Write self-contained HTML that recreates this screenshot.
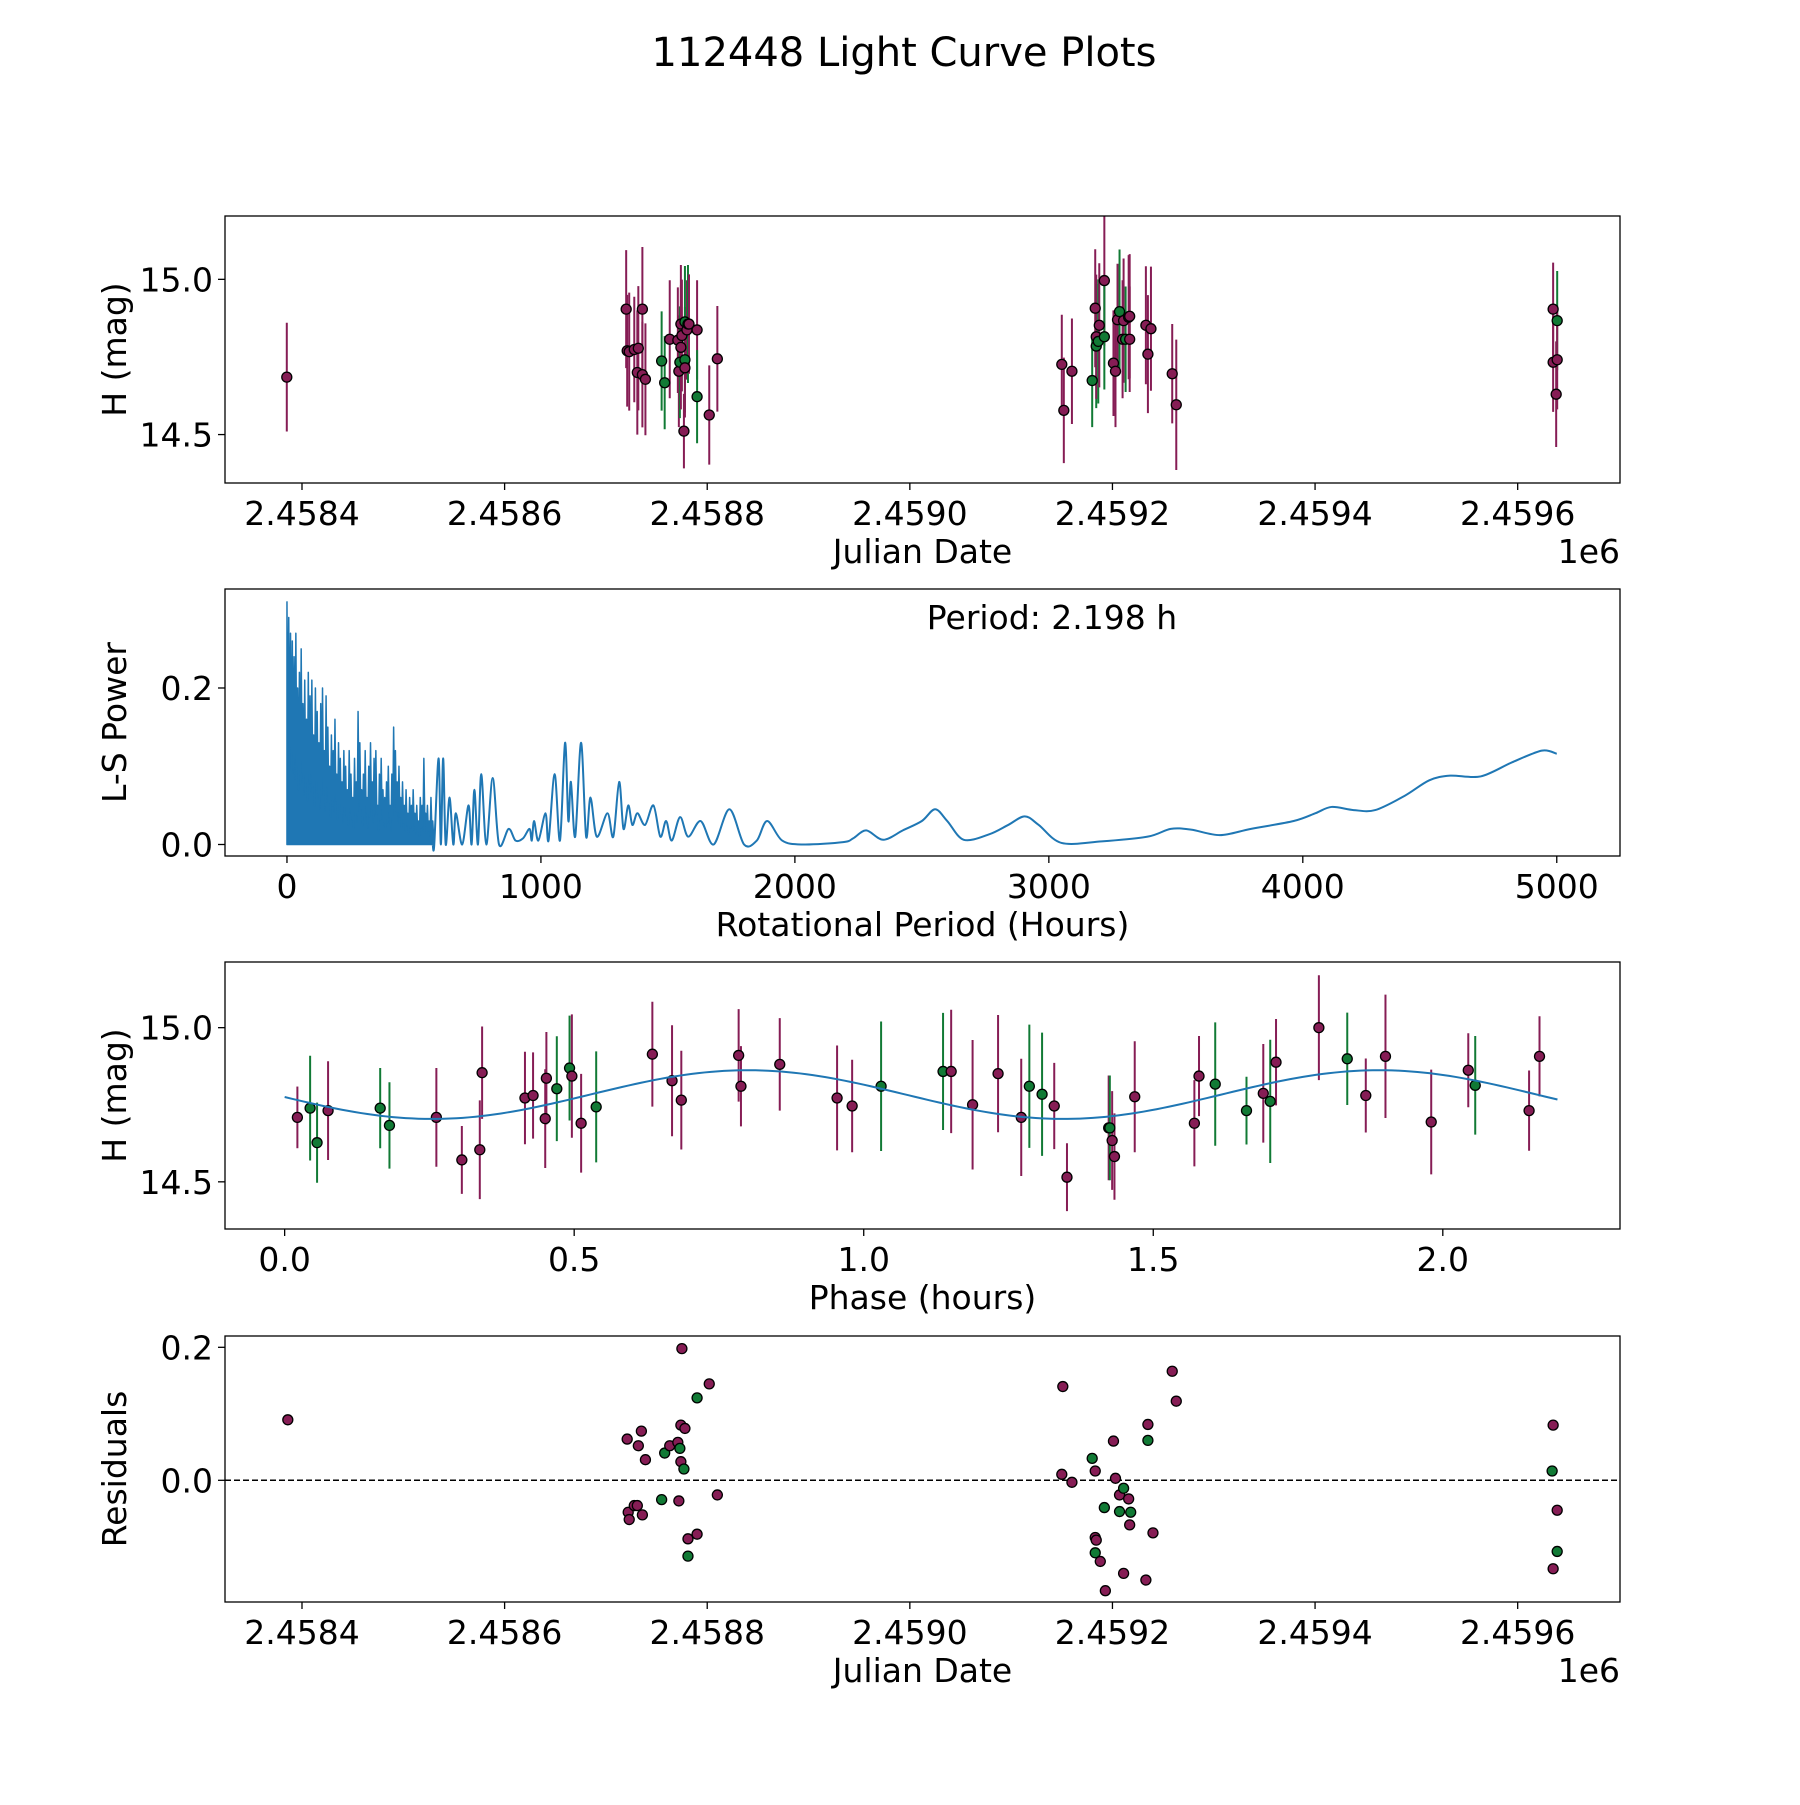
<!DOCTYPE html>
<html><head><meta charset="utf-8"><style>
html,body{margin:0;padding:0;background:#fff}
svg text{font-family:"DejaVu Sans","Liberation Sans",sans-serif;fill:#000}
</style></head><body>
<svg id="fig" xmlns="http://www.w3.org/2000/svg" width="1800" height="1800" viewBox="0 0 1800 1800">
<rect width="1800" height="1800" fill="#fff"/>
<text x="904" y="66" font-size="40" text-anchor="middle">112448 Light Curve Plots</text>
</svg>
<script>
// ---------- DATA ----------
const lcJD = [2458385,2458720,2458721,2458723,2458728,2458731,2458732,2458736,2458736,2458739,2458755,2458758,2458763,2458771,2458772,2458773,2458774,2458774,2458775,2458777,2458778,2458778,2458778,2458780,2458781,2458782,2458790,2458790,2458802,2458810,
2459150,2459152,2459160,2459180,2459183,2459184,2459184,2459186,2459187,2459192,2459192,2459201,2459203,2459205,2459207,2459210,2459211,2459213,2459216,2459217,2459217,2459233,2459235,2459238,2459259,2459263,
2459635,2459635,2459638,2459639,2459639];
const lcMag = [14.685,14.904,14.770,14.767,14.774,14.700,14.778,14.904,14.693,14.678,14.737,14.667,14.807,14.804,14.704,14.733,14.856,14.781,14.819,14.511,14.863,14.741,14.715,14.837,14.856,14.856,14.837,14.622,14.563,14.744,
14.726,14.578,14.704,14.674,14.907,14.785,14.815,14.800,14.852,14.996,14.815,14.730,14.704,14.870,14.896,14.807,14.867,14.807,14.878,14.807,14.881,14.852,14.759,14.841,14.696,14.596,
14.904,14.733,14.630,14.867,14.741];
const lcErr = [0.175,0.19,0.18,0.19,0.17,0.2,0.2,0.2,0.17,0.18,0.16,0.15,0.19,0.17,0.18,0.18,0.19,0.2,0.18,0.12,0.18,0.17,0.16,0.16,0.19,0.16,0.16,0.15,0.16,0.17,
0.16,0.17,0.17,0.15,0.19,0.2,0.2,0.2,0.2,0.21,0.17,0.17,0.18,0.18,0.2,0.19,0.2,0.17,0.2,0.17,0.2,0.19,0.19,0.2,0.16,0.21,
0.15,0.16,0.17,0.16,0.16];
const lcBand = ["p","p","p","p","p","p","p","p","p","p","g","g","p","p","p","g","p","p","p","p","g","g","p","p","g","p","p","g","p","p",
"p","p","p","g","p","g","p","g","p","p","g","p","p","p","g","p","p","g","p","p","p","p","p","p","p","p",
"p","p","p","g","p"];

const lsPeriodDense0 = 0, lsPeriodDenseStep = 7;
const lsDensePower = [0.31,0.29,0.27,0.26,0.24,0.27,0.2,0.22,0.25,0.18,0.21,0.16,0.22,0.19,0.21,0.14,0.2,0.17,0.13,0.18,0.2,0.12,0.19,0.15,0.1,0.14,0.12,0.16,0.09,0.13,0.11,0.08,0.12,0.1,0.07,0.12,0.09,0.06,0.11,0.08,0.17,0.13,0.07,0.09,0.12,0.06,0.1,0.13,0.08,0.11,0.12,0.05,0.09,0.11,0.07,0.06,0.08,0.1,0.05,0.09,0.15,0.12,0.08,0.1,0.06,0.08,0.05,0.07,0.04,0.06,0.05,0.07,0.04,0.05,0.03,0.06,0.05,0.11,0.04,0.05,0.03,0.06,0.03];
const lsPeriod = [580,597,606,615,625,640,655,665,690,715,727,738,752,765,785,810,835,873,900,930,955,964,973,990,1018,1030,1054,1075,1095,1108,1118,1135,1158,1178,1195,1220,1262,1285,1308,1325,1344,1360,1380,1410,1443,1470,1493,1515,1548,1580,1629,1680,1742,1800,1850,1891,1950,2032,2190,2230,2281,2348,2425,2500,2552,2600,2665,2765,2840,2905,2960,3050,3208,3389,3480,3560,3674,3796,3964,4050,4113,4200,4285,4400,4498,4580,4700,4824,4941,5000];
const lsPower = [0,0.11,0.0,0.11,0,0.06,0,0.04,0,0.05,0,0.07,0,0.09,0,0.085,0.0,0.02,0.005,0.008,0.02,0.005,0.03,0.005,0.04,0.005,0.09,0.005,0.13,0.03,0.08,0.01,0.13,0.01,0.06,0.01,0.04,0.01,0.08,0.02,0.05,0.025,0.04,0.025,0.05,0.01,0.03,0.005,0.035,0.01,0.03,0.0,0.045,0.0,0.005,0.03,0.005,0.0,0.003,0.008,0.018,0.006,0.018,0.03,0.045,0.03,0.006,0.013,0.025,0.036,0.025,0.002,0.004,0.01,0.02,0.019,0.012,0.02,0.03,0.04,0.048,0.044,0.044,0.062,0.082,0.088,0.087,0.105,0.12,0.116];

const phHours = [0.022,0.044,0.056,0.075,0.165,0.181,0.262,0.306,0.337,0.341,0.415,0.429,0.450,0.452,0.470,0.492,0.496,0.512,0.538,0.635,0.669,0.685,0.784,0.788,0.855,0.954,0.980,1.030,1.137,1.151,1.188,1.232,1.272,1.286,1.308,1.329,1.351,1.423,1.425,1.429,1.433,1.468,1.571,1.579,1.607,1.661,1.690,1.702,1.712,1.786,1.835,1.867,1.901,1.980,2.044,2.056,2.149,2.167];
const phMag = [14.709,14.739,14.627,14.731,14.739,14.683,14.709,14.571,14.604,14.854,14.772,14.780,14.705,14.836,14.802,14.869,14.843,14.690,14.743,14.914,14.828,14.765,14.910,14.810,14.881,14.772,14.746,14.810,14.858,14.858,14.750,14.851,14.709,14.810,14.784,14.746,14.515,14.675,14.675,14.634,14.582,14.776,14.690,14.843,14.817,14.731,14.787,14.761,14.888,15.000,14.899,14.780,14.907,14.694,14.862,14.813,14.731,14.907];
const phErr = [0.1,0.17,0.13,0.16,0.13,0.14,0.16,0.11,0.16,0.15,0.15,0.14,0.16,0.15,0.17,0.17,0.2,0.16,0.18,0.17,0.18,0.16,0.15,0.13,0.15,0.17,0.15,0.21,0.19,0.2,0.21,0.19,0.19,0.2,0.2,0.14,0.11,0.17,0.17,0.16,0.14,0.18,0.14,0.13,0.2,0.11,0.16,0.2,0.14,0.17,0.15,0.12,0.2,0.17,0.12,0.16,0.13,0.13];
const phBand = ["p","g","g","p","g","g","p","p","p","p","p","p","p","p","g","g","p","p","g","p","p","p","p","p","p","p","p","g","g","p","p","p","p","g","g","p","p","p","g","p","p","p","p","p","g","g","p","g","p","p","g","p","p","p","p","g","p","p"];
const fitMean = 14.783, fitAmp = 0.079, fitPeriod = 1.09, fitPeak = 0.80, fitEnd = 2.198;

const resJD = [2458386,2458721,2458722,2458723,2458728,2458731,2458732,2458735,2458736,2458739,2458755,2458758,2458763,2458771,2458772,2458773,2458774,2458774,2458775,2458777,2458778,2458781,2458781,2458790,2458790,2458802,2458810,
2459151,2459150,2459160,2459180,2459183,2459183,2459184,2459183,2459188,2459192,2459193,2459201,2459203,2459207,2459207,2459211,2459211,2459216,2459217,2459218,2459235,2459235,2459240,2459259,2459263,2459233,
2459635,2459634,2459639,2459639,2459635];
const resVal = [0.091,0.062,-0.048,-0.059,-0.038,-0.038,0.052,0.074,-0.052,0.031,-0.029,0.041,0.052,0.057,-0.031,0.048,0.083,0.028,0.198,0.017,0.078,-0.088,-0.114,-0.081,0.124,0.145,-0.022,
0.141,0.009,-0.003,0.033,0.014,-0.086,-0.090,-0.109,-0.122,-0.041,-0.166,0.059,0.003,-0.022,-0.047,-0.012,-0.140,-0.028,-0.067,-0.048,0.084,0.060,-0.079,0.164,0.119,-0.150,
0.083,0.014,-0.045,-0.107,-0.133];
const resBand = ["p","p","p","p","p","p","p","p","p","p","g","g","p","p","p","g","p","p","p","g","p","p","g","p","g","p","p",
"p","p","p","g","p","p","p","g","p","g","p","p","p","p","g","g","p","p","p","g","p","g","p","p","p","p",
"p","g","p","g","p"];

const jdTicks = [2458400,2458600,2458800,2459000,2459200,2459400,2459600];
const jdTickLabels = ["2.4584","2.4586","2.4588","2.4590","2.4592","2.4594","2.4596"];
const magTicks = [14.5,15.0], magTickLabels = ["14.5","15.0"];
const lsXTicks = [0,1000,2000,3000,4000,5000], lsYTicks = [0.0,0.2], lsYTickLabels = ["0.0","0.2"];
const phXTicks = [0,0.5,1,1.5,2], phXTickLabels = ["0.0","0.5","1.0","1.5","2.0"];
const resTicks = [0.0,0.2], resTickLabels = ["0.0","0.2"];

// ---------- DRAW ----------
const NS = "http://www.w3.org/2000/svg";
const svg = document.getElementById("fig");
const COL = {p:"#861d55", g:"#117a35"};
const FS = 33;
function mk(tag, attrs, parent){ const e=document.createElementNS(NS,tag); for(const k in attrs) e.setAttribute(k,attrs[k]); (parent||svg).appendChild(e); return e; }
function scale(d0,d1,r0,r1){ return v => r0+(v-d0)*(r1-r0)/(d1-d0); }
const L=225,R=1620;
function axes(name, top, bot, xlim, ylim, xt, xtl, yt, ytl, xlabel, ylabel, offset){
  const g = mk("g",{});
  
  
  const sx=scale(xlim[0],xlim[1],L,R), sy=scale(ylim[0],ylim[1],bot,top);
  xt.forEach((v,i)=>{ const x=sx(v);
    mk("line",{x1:x,x2:x,y1:bot,y2:bot+7,stroke:"#000","stroke-width":1.3},g);
    const t=mk("text",{x:x,y:bot+42,"font-size":FS,"text-anchor":"middle"},g); t.textContent=xtl[i];
    
     });
  yt.forEach((v,i)=>{ const y=sy(v);
    mk("line",{x1:L-7,x2:L,y1:y,y2:y,stroke:"#000","stroke-width":1.3},g);
    const t=mk("text",{x:L-12,y:y+12,"font-size":FS,"text-anchor":"end"},g); t.textContent=ytl[i];
    
     });
  const xl=mk("text",{x:(L+R)/2,y:bot+80,"font-size":FS,"text-anchor":"middle"},g); xl.textContent=xlabel;
  
  
  const yl=mk("text",{x:0,y:0,"font-size":FS,"text-anchor":"middle",transform:`translate(126,${(top+bot)/2}) rotate(-90)`},g); yl.textContent=ylabel;
  
  
  if(offset){ const o=mk("text",{x:R,y:bot+80,"font-size":FS,"text-anchor":"end"},g); o.textContent=offset;
    
     }
  const clipId=name+"-clip";
  const cp=mk("clipPath",{id:clipId},g); mk("rect",{x:L,y:top,width:R-L,height:bot-top},cp);
  const plot=mk("g",{"clip-path":`url(#${clipId})`},g);
  return {g,plot,sx,sy,frame:()=>mk("rect",{x:L,y:top,width:R-L,height:bot-top,fill:"none",stroke:"#000","stroke-width":1.3},g)};
}
function errPoints(ax, xs, ys, es, bands, nm){
  xs.forEach((xv,i)=>{ const x=ax.sx(xv);
    if(es){ const l=mk("line",{x1:x,x2:x,y1:ax.sy(ys[i]-es[i]),y2:ax.sy(ys[i]+es[i]),stroke:COL[bands[i]],"stroke-width":2},ax.plot);
      
       }
  });
  xs.forEach((xv,i)=>{ const c=mk("circle",{cx:ax.sx(xv),cy:ax.sy(ys[i]),r:5,fill:COL[bands[i]],stroke:"#000","stroke-width":1.3},ax.plot);
    
     });
}
const jdLim=[2458324,2459701];
// Panel 1
const a1=axes("light-curve-panel",216,483,jdLim,[14.344,15.204],jdTicks,jdTickLabels,magTicks,magTickLabels,"Julian Date","H (mag)","1e6");
errPoints(a1,lcJD,lcMag,lcErr,lcBand,"light-curve"); a1.frame();
// Panel 2
const a2=axes("periodogram-panel",589,856,[-244,5249],[-0.0147,0.3265],lsXTicks,lsXTicks.map(String),lsYTicks,lsYTickLabels,"Rotational Period (Hours)","L-S Power");
// dense spiky region: filled
let dd="M"+a2.sx(0).toFixed(2)+","+a2.sy(0).toFixed(2)+" ";
lsDensePower.forEach((p,i)=>{ const per=lsPeriodDense0+i*lsPeriodDenseStep;
  dd+="L"+a2.sx(per).toFixed(2)+","+a2.sy(p).toFixed(2)+" L"+a2.sx(per+lsPeriodDenseStep/2).toFixed(2)+","+a2.sy(p*0.35).toFixed(2)+" "; });
const lastDense = lsPeriodDense0+(lsDensePower.length-1)*lsPeriodDenseStep;
dd+="L"+a2.sx(lastDense).toFixed(2)+","+a2.sy(0).toFixed(2)+" Z";
const pf=mk("path",{d:dd,fill:"#1f77b4",stroke:"#1f77b4","stroke-width":1.5,"stroke-linejoin":"round"},a2.plot);


// smooth remaining curve (cardinal spline)
const pts=[[a2.sx(lastDense),a2.sy(0)]].concat(lsPeriod.map((per,i)=>[a2.sx(per),a2.sy(lsPower[i])]));
let d="M"+pts[0][0].toFixed(2)+","+pts[0][1].toFixed(2);
for(let i=0;i<pts.length-1;i++){
  const p0=pts[Math.max(0,i-1)],p1=pts[i],p2=pts[i+1],p3=pts[Math.min(pts.length-1,i+2)];
  const t=0.16;
  const c1=[p1[0]+(p2[0]-p0[0])*t,p1[1]+(p2[1]-p0[1])*t], c2=[p2[0]-(p3[0]-p1[0])*t,p2[1]-(p3[1]-p1[1])*t];
  d+=` C${c1[0].toFixed(2)},${c1[1].toFixed(2)} ${c2[0].toFixed(2)},${c2[1].toFixed(2)} ${p2[0].toFixed(2)},${p2[1].toFixed(2)}`;
}
const pl=mk("path",{d:d,fill:"none",stroke:"#1f77b4","stroke-width":2,"stroke-linejoin":"round"},a2.plot);


const pt=mk("text",{x:1052,y:629,"font-size":FS,"text-anchor":"middle"},a2.g); pt.textContent="Period: 2.198 h";


a2.frame();
// Panel 3
const a3=axes("phase-panel",962,1229,[-0.103,2.306],[14.347,15.213],phXTicks,phXTickLabels,magTicks,magTickLabels,"Phase (hours)","H (mag)");
errPoints(a3,phHours,phMag,phErr,phBand,"phase");
let fd="";
for(let i=0;i<=200;i++){ const ph=fitEnd*i/200; const h=fitMean+fitAmp*Math.cos(2*Math.PI*(ph-fitPeak)/fitPeriod);
  fd+=(i?"L":"M")+a3.sx(ph).toFixed(2)+","+a3.sy(h).toFixed(2); }
const fl=mk("path",{d:fd,fill:"none",stroke:"#1f77b4","stroke-width":2},a3.plot);


a3.frame();
// Panel 4
const a4=axes("residuals-panel",1336,1602,jdLim,[-0.183,0.217],jdTicks,jdTickLabels,resTicks,resTickLabels,"Julian Date","Residuals","1e6");
const zl=mk("line",{x1:L,x2:R,y1:a4.sy(0),y2:a4.sy(0),stroke:"#000","stroke-width":1.5,"stroke-dasharray":"6,3"},a4.plot);


errPoints(a4,resJD,resVal,null,resBand,"residual"); a4.frame();
</script>
</body></html>
